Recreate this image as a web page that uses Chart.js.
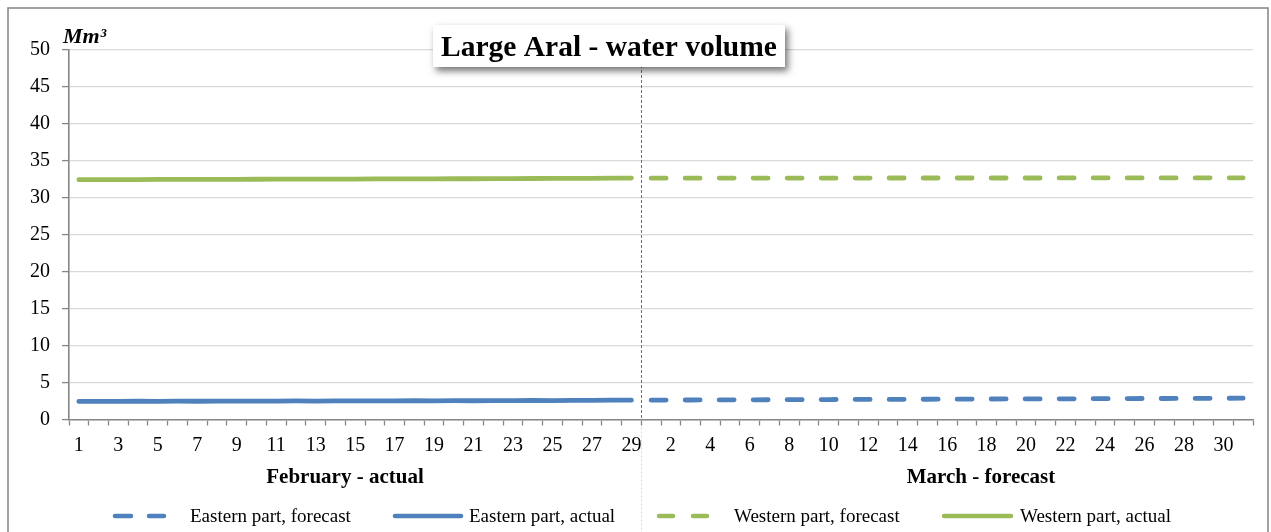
<!DOCTYPE html>
<html>
<head>
<meta charset="utf-8">
<script src="https://cdn.jsdelivr.net/npm/chart.js@4"></script>
<style>
html,body{margin:0;padding:0;background:#fff;overflow:hidden;}
#wrap{position:absolute;left:0;top:0;width:1271px;height:532px;}
</style>
</head>
<body>
<div id="wrap"><canvas id="c" width="1271" height="532"></canvas></div>
<script>
// ---- categories ----
const febDays = ["1","2","3","4","5","6","7","8","9","10","11","12","13","14","15","16","17","18","19","20","21","22","23","24","25","26","27","28","29"];
const marDays = ["1","2","3","4","5","6","7","8","9","10","11","12","13","14","15","16","17","18","19","20","21","22","23","24","25","26","27","28","29","30","31"];
const monthLabels = ["February - actual", "March - forecast"];
const titleText = "Large Aral - water volume";
const yTicks = [0,5,10,15,20,25,30,35,40,45,50];

// ---- series (Mm3) ----
const eastActual = [2.45,2.46,2.45,2.47,2.46,2.48,2.47,2.49,2.48,2.50,2.49,2.51,2.50,2.52,2.51,2.53,2.52,2.54,2.53,2.55,2.54,2.56,2.55,2.57,2.56,2.59,2.58,2.61,2.62];
const westActual = [32.45,32.46,32.46,32.47,32.48,32.48,32.49,32.50,32.50,32.51,32.52,32.52,32.53,32.54,32.54,32.55,32.56,32.56,32.57,32.58,32.58,32.59,32.60,32.61,32.62,32.63,32.64,32.66,32.67];
const eastForecast = [2.62,2.63,2.64,2.65,2.66,2.66,2.67,2.68,2.69,2.70,2.71,2.72,2.72,2.73,2.74,2.75,2.76,2.77,2.78,2.78,2.79,2.80,2.81,2.82,2.83,2.84,2.84,2.85,2.86,2.87,2.88];
const westForecast = [32.66,32.66,32.66,32.66,32.67,32.67,32.67,32.67,32.67,32.67,32.67,32.67,32.68,32.68,32.68,32.68,32.68,32.68,32.68,32.68,32.68,32.69,32.69,32.69,32.69,32.69,32.69,32.69,32.70,32.70,32.70];
const seriesNames = ["Eastern part, forecast","Eastern part, actual","Western part, forecast","Western part, actual"];

const BLUE = '#4f81bd', GREEN = '#9bbb59', AXIS = '#868686', GRID = '#d9d9d9';
const labels = febDays.concat(marDays);
const padF = new Array(febDays.length).fill(null);
const padM = new Array(marDays.length).fill(null);

const FONT = "'Liberation Serif', 'Times New Roman', serif";
Chart.defaults.font.family = FONT;
Chart.defaults.color = '#000';

const decor = {
  id: 'decor',
  beforeDraw(chart) {
    const ctx = chart.ctx;
    ctx.save();
    ctx.fillStyle = '#fff';
    ctx.fillRect(0, 0, chart.width, chart.height);
    ctx.strokeStyle = '#8a8a8a';
    ctx.lineWidth = 1.6;
    ctx.strokeRect(8, 8, 1260, 600);
    ctx.restore();
  },
  afterDraw(chart) {
    const ctx = chart.ctx, x = chart.scales.x, a = chart.chartArea;
    ctx.save();
    // separator between months
    const sx = Math.round((x.getPixelForValue(febDays.length - 1) + x.getPixelForValue(febDays.length)) / 2) + 0.5;
    ctx.lineWidth = 1;
    ctx.setLineDash([3, 2]);
    ctx.strokeStyle = '#6f6f6f';
    ctx.beginPath(); ctx.moveTo(sx, a.top); ctx.lineTo(sx, a.bottom); ctx.stroke();
    ctx.strokeStyle = '#d8d8d8';
    ctx.setLineDash([2, 2]);
    ctx.beginPath(); ctx.moveTo(sx, a.bottom + 8); ctx.lineTo(sx, chart.height); ctx.stroke();
    ctx.setLineDash([]);

    // unit label
    ctx.fillStyle = '#000';
    ctx.font = "italic bold 22px " + FONT;
    ctx.textAlign = 'left'; ctx.textBaseline = 'alphabetic';
    ctx.fillText("Mm", 63, 43);
    ctx.font = "italic bold 21px " + FONT;
    ctx.fillText("³", 100, 43);

    // month labels
    ctx.font = "bold 21px " + FONT;
    ctx.textAlign = 'center';
    ctx.fillText(monthLabels[0], 345, 483);
    ctx.fillText(monthLabels[1], 981, 483);

    // title box
    ctx.save();
    ctx.shadowColor = 'rgba(0,0,0,0.55)';
    ctx.shadowBlur = 7;
    ctx.shadowOffsetX = 3;
    ctx.shadowOffsetY = 4;
    ctx.fillStyle = '#fff';
    ctx.fillRect(433, 25, 352, 42);
    ctx.restore();
    ctx.fillStyle = '#000';
    ctx.font = "bold 29.5px " + FONT;
    ctx.textAlign = 'center'; ctx.textBaseline = 'alphabetic';
    ctx.fillText(titleText, 609, 56);

    // legend
    const ly = 516;
    ctx.lineWidth = 4.5;
    ctx.lineCap = 'round';
    const seg = (c, x1, x2) => { ctx.strokeStyle = c; ctx.beginPath(); ctx.moveTo(x1, ly); ctx.lineTo(x2, ly); ctx.stroke(); };
    seg(BLUE, 115, 131); seg(BLUE, 149, 164);
    seg(BLUE, 395, 461);
    seg(GREEN, 659, 673); seg(GREEN, 693, 707);
    seg(GREEN, 944, 1011);
    ctx.font = "19px " + FONT;
    ctx.textAlign = 'left'; ctx.textBaseline = 'alphabetic';
    ctx.fillStyle = '#000';
    ctx.fillText(seriesNames[0], 190, 522);
    ctx.fillText(seriesNames[1], 469, 522);
    ctx.fillText(seriesNames[2], 734, 522);
    ctx.fillText(seriesNames[3], 1020, 522);
    ctx.restore();
  }
};

new Chart(document.getElementById('c'), {
  type: 'line',
  data: {
    labels: labels,
    datasets: [
      { label: seriesNames[0], data: padF.concat(eastForecast), borderColor: BLUE, borderWidth: 4.8, borderDash: [15, 19], borderCapStyle: 'round', pointRadius: 0, fill: false, tension: 0 },
      { label: seriesNames[1], data: eastActual.concat(padM), borderColor: BLUE, borderWidth: 4.8, borderCapStyle: 'round', pointRadius: 0, fill: false, tension: 0 },
      { label: seriesNames[2], data: padF.concat(westForecast), borderColor: GREEN, borderWidth: 4.8, borderDash: [15, 19], borderCapStyle: 'round', pointRadius: 0, fill: false, tension: 0 },
      { label: seriesNames[3], data: westActual.concat(padM), borderColor: GREEN, borderWidth: 4.8, borderCapStyle: 'round', pointRadius: 0, fill: false, tension: 0 }
    ]
  },
  options: {
    responsive: false,
    animation: false,
    events: [],
    layout: { padding: { left: 0, top: 50, right: 18, bottom: 0 } },
    plugins: { legend: { display: false }, title: { display: false }, tooltip: { enabled: false } },
    scales: {
      x: {
        type: 'category',
        offset: true,
        grid: { offset: true, drawOnChartArea: false, drawTicks: true, tickLength: 6, tickColor: AXIS, tickWidth: 1.3 },
        border: { display: true, color: AXIS, width: 1.6 },
        ticks: {
          autoSkip: false, maxRotation: 0, minRotation: 0, padding: 8,
          font: { size: 20, family: FONT }, color: '#000',
          callback: function(v, i) { return i % 2 === 0 ? this.getLabelForValue(v) : ''; }
        },
        afterFit(s) { s.height = 112.5; }
      },
      y: {
        min: 0, max: 50,
        afterBuildTicks(s) { s.ticks = yTicks.map(v => ({ value: v })); },
        grid: { color: GRID, lineWidth: 1.2, tickLength: 7, tickColor: AXIS, tickWidth: 1.3 },
        border: { display: true, color: AXIS, width: 1.6 },
        ticks: { padding: 12, font: { size: 20, family: FONT }, color: '#000' },
        afterFit(s) { s.width = 69; }
      }
    }
  },
  plugins: [decor]
});
</script>
</body>
</html>
